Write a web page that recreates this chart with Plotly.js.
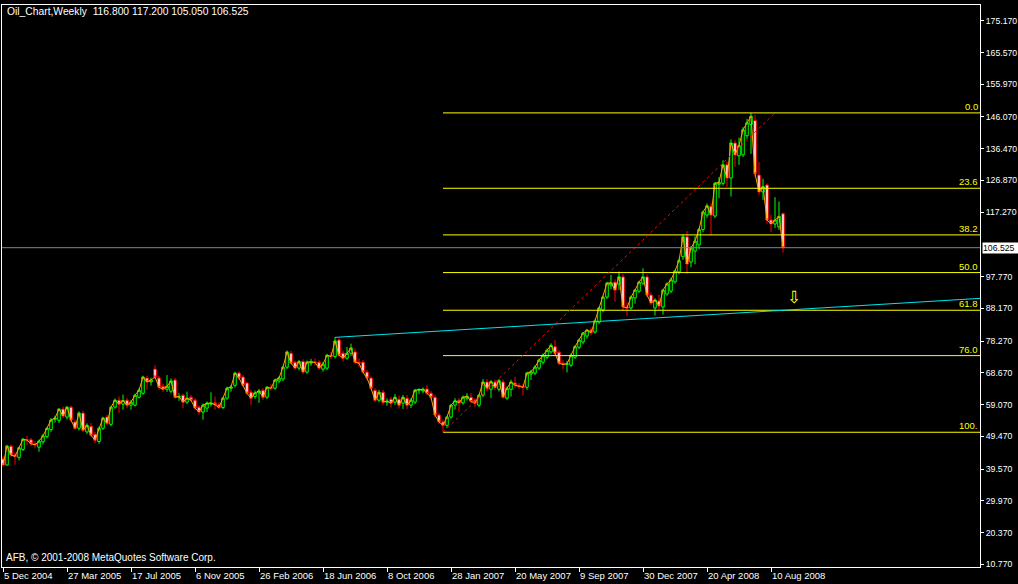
<!DOCTYPE html>
<html><head><meta charset="utf-8">
<script src="https://cdn.plot.ly/plotly-3.0.1.min.js"></script>
<style>html,body{margin:0;padding:0;background:#000;}#chart{width:1018px;height:584px;}</style>
</head><body><div id="chart"></div>
<script>
// Weekly bars, first bar week of 5 Dec 2004
const firstWeek = [2004, 11, 5];
const opens = [42.6,40.8,46.5,43.8,43.1,45.5,48.5,48.4,47.2,46.2,47.8,49.4,51.5,54.6,54.3,57.7,55.3,58.3,53.8,51.9,
56.5,50.8,52.5,50.1,47.9,51.9,55.3,53.1,58.3,60.4,59.2,60.4,58.9,58.9,61.3,62.5,67.1,65.9,69.8,67.1,
64.6,63.7,63.1,66.5,61.3,61.9,59.8,61.3,60.4,58.3,56.8,58.0,59.2,59.6,59.0,58.2,61.0,64.0,64.9,68.6,
67.4,65.6,62.8,61.5,62.6,63.4,61.3,64.3,64.0,66.2,66.8,70.4,74.6,71.9,70.1,72.1,68.9,71.6,72.0,71.9,
69.8,70.1,74.0,73.6,78.6,74.6,73.1,74.6,75.0,71.9,71.9,68.9,67.1,63.4,60.4,62.8,59.8,60.7,59.8,60.7,
59.5,61.0,58.9,59.8,63.4,63.2,63.8,62.5,61.3,55.9,53.8,52.8,55.3,58.9,60.4,59.6,61.0,61.3,60.4,58.9,
61.9,65.9,63.7,65.9,63.7,65.9,61.0,63.7,65.6,64.9,64.6,64.3,68.3,68.6,70.1,71.9,73.4,75.0,76.6,74.9,
71.6,71.2,71.0,73.4,76.4,78.0,79.8,81.6,81.0,84.0,87.7,91.6,95.2,96.1,95.5,97.7,88.6,88.3,91.3,93.4,
95.8,97.7,92.2,88.3,90.4,88.6,92.5,93.4,96.2,99.2,103.8,109.8,102.2,105.5,107.4,112.0,116.4,119.0,116.1,125.7,
126.0,131.6,127.6,138.2,134.3,134.6,140.4,143.8,145.0,128.5,123.4,125.5,114.9,113.7,112.8,116.8];
const highs = [43.4,46.9,46.9,44.6,46.3,48.9,49.6,49.0,48.0,48.5,50.2,52.2,55.0,55.7,58.0,58.5,58.6,58.8,54.5,57.0,
57.2,53.4,53.5,50.8,52.4,55.4,56.0,58.6,60.9,61.5,62.1,61.0,60.5,62.3,64.0,67.8,67.8,67.2,71.0,67.8,
65.4,68.0,67.0,67.2,62.5,62.4,63.0,62.0,61.0,58.8,59.4,60.0,62.8,61.5,59.8,61.4,64.5,65.0,69.0,69.2,
68.0,66.0,63.5,63.3,63.8,64.0,64.7,65.2,66.9,67.6,70.8,75.4,75.3,72.4,72.6,72.8,72.4,72.9,73.0,72.5,
72.0,74.4,75.0,79.5,79.2,75.4,76.5,77.5,76.0,73.0,72.5,69.6,67.6,64.0,63.5,63.6,61.0,61.4,62.3,61.8,
62.0,62.0,61.0,63.8,64.0,64.2,65.0,63.2,62.0,56.5,54.5,55.5,59.2,61.0,61.0,61.8,62.5,62.6,61.0,62.2,
66.8,66.8,66.5,66.6,66.8,66.7,64.6,66.6,67.5,65.6,65.3,69.0,69.6,71.0,73.0,74.5,76.0,77.6,78.6,75.5,
72.5,72.3,74.5,77.0,79.0,81.0,82.0,82.4,84.9,88.6,92.0,96.2,98.3,97.0,99.3,98.5,90.0,92.0,94.0,96.5,
100.3,98.4,93.0,91.2,92.3,94.0,96.0,97.5,99.8,103.2,110.6,111.6,107.0,110.0,112.5,117.8,119.9,119.9,126.4,127.9,
133.0,132.5,139.3,139.0,139.8,143.0,145.5,147.3,146.7,132.5,127.4,126.0,116.5,121.8,120.5,117.2];
const lows = [40.3,40.6,43.3,40.9,42.2,45.0,46.8,46.5,45.8,44.8,47.0,48.8,50.8,53.6,53.5,55.0,54.6,53.8,51.5,51.2,
50.8,50.2,49.4,47.4,47.2,51.4,52.8,52.5,57.8,56.6,57.5,58.0,57.5,58.5,60.9,62.0,63.6,64.8,66.8,63.6,
62.8,62.9,62.5,60.9,60.2,58.0,59.2,60.0,57.5,56.0,54.5,56.8,58.5,57.5,57.8,57.7,60.5,63.0,64.3,66.5,
64.5,62.0,58.9,60.8,59.6,60.5,60.8,63.3,63.5,65.5,66.2,69.8,71.2,69.6,69.4,68.3,68.4,70.8,70.9,69.6,
69.0,69.5,72.8,73.0,73.5,72.0,72.6,73.8,71.4,70.5,68.4,66.5,63.6,59.8,59.8,59.0,58.7,58.2,59.0,57.9,
57.8,57.8,58.0,59.2,62.3,62.5,62.0,60.6,55.3,53.2,50.7,52.0,54.8,57.6,57.0,59.0,60.3,59.5,58.2,58.3,
61.4,63.3,61.0,63.4,63.0,60.9,60.5,61.5,64.1,63.8,61.9,63.5,66.5,68.0,69.5,71.2,72.8,74.5,74.0,71.0,
69.8,68.8,70.4,72.8,75.8,77.3,79.0,80.0,80.5,83.4,87.0,91.0,94.0,90.2,93.8,87.6,85.9,87.8,89.6,92.8,
95.2,91.6,89.2,86.0,87.8,86.3,92.0,92.8,95.6,98.5,102.8,98.6,100.6,101.5,106.0,111.2,115.5,110.3,115.5,121.5,
125.3,124.9,122.0,131.0,131.6,134.0,139.5,134.9,128.0,122.5,121.0,113.8,111.3,112.5,111.9,105.05];
const closes = [40.8,46.5,43.8,43.4,46.0,48.6,48.3,47.2,46.9,48.0,49.6,51.9,54.4,55.0,57.7,55.6,58.3,54.4,51.9,56.5,
51.3,52.8,49.8,48.3,51.9,55.0,53.4,58.3,60.4,59.2,60.3,58.9,59.8,61.9,63.4,67.4,65.9,66.5,67.4,64.3,
63.7,64.6,66.2,61.3,61.5,59.8,61.0,60.4,58.0,56.8,58.9,59.5,59.5,59.0,58.2,61.0,64.0,64.4,68.6,67.1,
64.9,62.5,61.0,62.6,63.2,61.3,64.3,64.0,66.5,67.1,70.4,75.0,71.6,70.1,72.1,68.9,71.9,72.0,71.8,70.1,
71.3,74.0,73.6,78.3,74.0,73.1,74.6,76.2,71.9,71.6,68.9,67.1,64.0,60.4,62.8,59.8,60.1,59.5,61.3,58.9,
61.3,58.9,60.4,63.4,63.6,63.7,62.5,61.3,55.9,53.8,52.8,55.3,58.9,60.2,59.6,61.3,61.6,60.0,59.5,61.9,
65.9,64.0,66.0,64.2,66.3,61.3,64.0,65.9,64.9,64.6,64.3,68.6,69.0,70.4,72.5,74.0,75.5,77.0,74.6,71.6,
71.2,71.4,74.0,76.6,78.6,80.7,81.6,80.8,84.4,88.3,91.6,95.8,95.9,93.7,97.7,88.6,88.3,91.6,93.7,96.1,
97.7,92.2,89.8,90.7,88.9,93.7,95.6,96.8,99.5,102.6,109.8,101.6,106.4,108.5,112.0,117.3,119.2,116.4,126.0,126.3,
131.6,127.6,138.2,134.6,137.4,142.2,144.3,146.3,128.9,123.4,125.0,114.9,113.7,114.9,116.0,106.525];

const tickDates = ['2004-12-05','2005-03-27','2005-07-17','2005-11-06','2006-02-26','2006-06-18','2006-10-08',
  '2007-01-28','2007-05-20','2007-09-09','2007-12-30','2008-04-20','2008-08-10'];
const tickLabels = ['5 Dec 2004','27 Mar 2005','17 Jul 2005','6 Nov 2005','26 Feb 2006','18 Jun 2006','8 Oct 2006',
  '28 Jan 2007','20 May 2007','9 Sep 2007','30 Dec 2007','20 Apr 2008','10 Aug 2008'];
const priceTicks = [175.17,165.57,155.97,146.07,136.47,126.87,117.27,97.77,88.17,78.27,68.67,59.07,49.47,39.57,29.97,20.37,10.77];
const priceTickLabels = ['175.170','165.570','155.970','146.070','136.470','126.870','117.270','97.770','88.170',
  '78.270','68.670','59.070','49.470','39.570','29.970','20.370','10.770'];

const fibLabels = ['0.0','23.6','38.2','50.0','61.8','76.0','100.'];
const fibRatios = [0, 0.236, 0.382, 0.5, 0.618, 0.76, 1];
const fibHigh = 147.3, fibLow = 50.7;
const fibStartBar = 110, fibEndBar = 193;
const trendStartBar = 83, trendStartPrice = 79.4, trendEndPrice = 91.2;
const arrowDate = '2008-09-19', arrowPrice = 91.5;
const lastPrice = 106.525;
const headerText = 'Oil_Chart,Weekly\u00a0\u00a0116.800 117.200 105.050 106.525';
const footerText = 'AFB, \u00a9 2001-2008 MetaQuotes Software Corp.';

const WEEK = 7 * 86400000;
const t0 = Date.UTC(firstWeek[0], firstWeek[1], firstWeek[2]);
function fmt(ms) { return new Date(ms).toISOString().slice(0, 19).replace('T', ' '); }
function barDate(i) { return fmt(t0 + i * WEEK); }
const dates = closes.map((_, i) => barDate(i));
const xRange = [fmt(t0 - 0.25 * WEEK), fmt(t0 + 244.25 * WEEK)];
const xRight = xRange[1];

const FONT = 'Liberation Sans, Arial, sans-serif';

const traces = [
  {
    type: 'candlestick', x: dates, open: opens, high: highs, low: lows, close: closes,
    increasing: {line: {color: '#00FF00', width: 1}, fillcolor: '#000000'},
    decreasing: {line: {color: '#FF0000', width: 1}, fillcolor: '#FFFFFF'},
    whiskerwidth: 0, hoverinfo: 'none', showlegend: false
  },
  {
    type: 'scatter', mode: 'lines', x: dates, y: closes,
    line: {color: '#FFA500', width: 1}, hoverinfo: 'none', showlegend: false
  }
];

const fibPrices = fibRatios.map(r => fibHigh - r * (fibHigh - fibLow));
const shapes = [];
fibPrices.forEach(p => shapes.push({type: 'line', xref: 'x', yref: 'y', x0: barDate(fibStartBar), x1: xRight,
  y0: p, y1: p, line: {color: '#FFFF00', width: 1}}));
shapes.push({type: 'line', xref: 'x', yref: 'y', x0: barDate(fibStartBar), y0: fibLow, x1: barDate(fibEndBar), y1: fibHigh,
  line: {color: '#FF0000', width: 1, dash: 'dot'}});
shapes.push({type: 'line', xref: 'x', yref: 'y', x0: barDate(trendStartBar), y0: trendStartPrice, x1: xRight, y1: trendEndPrice,
  line: {color: '#00E5EE', width: 1}});
shapes.push({type: 'line', xref: 'paper', yref: 'y', x0: 0, x1: 1, y0: lastPrice, y1: lastPrice,
  line: {color: '#778899', width: 1}});

const annotations = [];
fibPrices.forEach((p, k) => annotations.push({xref: 'paper', yref: 'y', x: 1, y: p, xanchor: 'right', yanchor: 'bottom',
  xshift: -1, yshift: 0, text: fibLabels[k], showarrow: false, borderpad: 0,
  font: {family: FONT, size: 9.5, color: '#FFFF00'}}));
annotations.push({xref: 'paper', yref: 'paper', x: 0, y: 1, xanchor: 'left', yanchor: 'top', xshift: 4, yshift: 0,
  text: headerText, showarrow: false, borderpad: 0, font: {family: FONT, size: 10.3, color: '#FFFFFF'}});
annotations.push({xref: 'paper', yref: 'paper', x: 0, y: 0, xanchor: 'left', yanchor: 'bottom', xshift: 3, yshift: 3,
  text: footerText, showarrow: false, borderpad: 0, font: {family: FONT, size: 10, color: '#FFFFFF'}});
annotations.push({xref: 'paper', yref: 'y', x: 1, y: lastPrice, xanchor: 'left', yanchor: 'middle', xshift: 2,
  text: '106.525\u00a0\u00a0', showarrow: false, borderpad: 0, bgcolor: '#FFFFFF',
  font: {family: FONT, size: 8.7, color: '#000000'}});
annotations.push({xref: 'x', yref: 'y', x: arrowDate, y: arrowPrice, xanchor: 'center', yanchor: 'middle',
  text: '\u21E9', showarrow: false, borderpad: 0, font: {family: 'DejaVu Sans', size: 17, color: '#FFFF00'}});

const layout = {
  width: 1018, height: 584,
  margin: {l: 2, r: 38, t: 5, b: 17, pad: 0},
  paper_bgcolor: '#000000', plot_bgcolor: '#000000',
  showlegend: false,
  boxgap: 0.2, boxgroupgap: 0.2,
  xaxis: {
    type: 'date', range: xRange, showgrid: false, zeroline: false,
    showline: true, mirror: true, linecolor: '#FFFFFF', linewidth: 1,
    ticks: 'outside', ticklen: 4, tickcolor: '#FFFFFF', tickwidth: 1,
    tickmode: 'array', tickvals: tickDates, ticktext: tickLabels,
    ticklabelposition: 'outside right',
    tickfont: {family: FONT, size: 9.5, color: '#FFFFFF'},
    rangeslider: {visible: false}, fixedrange: true
  },
  yaxis: {
    side: 'right', range: [9.94, 179.94], showgrid: false, zeroline: false,
    showline: true, mirror: true, linecolor: '#FFFFFF', linewidth: 1,
    ticks: 'outside', ticklen: 3, tickcolor: '#FFFFFF', tickwidth: 1,
    tickmode: 'array', tickvals: priceTicks, ticktext: priceTickLabels,
    tickfont: {family: FONT, size: 8.7, color: '#FFFFFF'}, fixedrange: true
  },
  shapes: shapes,
  annotations: annotations
};

Plotly.newPlot('chart', traces, layout, {staticPlot: true, displayModeBar: false});
</script>
</body></html>
